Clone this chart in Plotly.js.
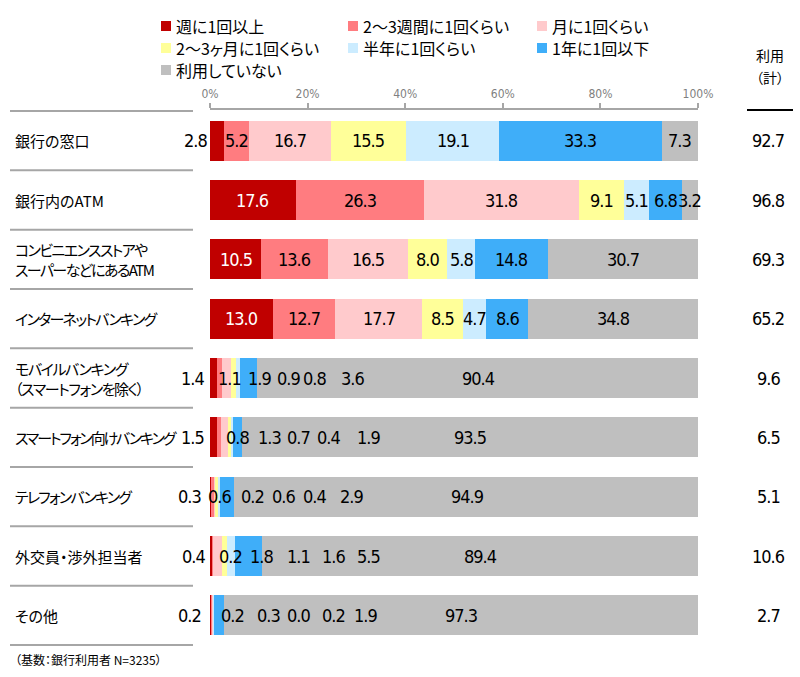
<!DOCTYPE html>
<html><head><meta charset="utf-8">
<script src="https://cdn.plot.ly/plotly-3.0.1.min.js"></script>
<style>
html,body{margin:0;padding:0;background:#fff;}
#chart{width:800px;height:677px;}
svg text{font-feature-settings:"palt" 1; font-stretch:condensed;}
</style>
</head><body><div id="chart"></div>
<script>
// ---------- data ----------
const categories = ["銀行の窓口","銀行内のATM","コンビニ・スーパーATM","インターネットバンキング","モバイルバンキング","スマートフォン向けバンキング","テレフォンバンキング","外交員・渉外担当者","その他"];
const categoryLabels = ["銀行の窓口","銀行内のATM","コンビニエンスストアや<br>スーパーなどにあるATM","インターネットバンキング","モバイルバンキング<br>（スマートフォンを除く）","スマートフォン向けバンキング","テレフォンバンキング","外交員・渉外担当者","その他"];
const seriesNames = ["週に1回以上","2～3週間に1回くらい","月に1回くらい","2～3ヶ月に1回くらい","半年に1回くらい","1年に1回以下","利用していない"];
const weekly    = [2.8, 17.6, 10.5, 13.0, 1.4, 1.5, 0.3, 0.4, 0.2];
const biweekly  = [5.2, 26.3, 13.6, 12.7, 1.1, 0.8, 0.6, 0.2, 0.2];
const monthly   = [16.7, 31.8, 16.5, 17.7, 1.9, 1.3, 0.2, 1.8, 0.3];
const bimonthly = [15.5, 9.1, 8.0, 8.5, 0.9, 0.7, 0.6, 1.1, 0.0];
const halfyear  = [19.1, 5.1, 5.8, 4.7, 0.8, 0.4, 0.4, 1.6, 0.2];
const yearly    = [33.3, 6.8, 14.8, 8.6, 3.6, 1.9, 2.9, 5.5, 1.9];
const notUsed   = [7.3, 3.2, 30.7, 34.8, 90.4, 93.5, 94.9, 89.4, 97.3];
const usageTotal = [92.7, 96.8, 69.3, 65.2, 9.6, 6.5, 5.1, 10.6, 2.7];
const axisTicks = [0, 20, 40, 60, 80, 100];
const axisTickLabels = ["0%", "20%", "40%", "60%", "80%", "100%"];
const footnote = "（基数：銀行利用者 N=3235）";
const usageHeader = ["利用", "（計）"];

// ---------- layout / style ----------
const L = 210, R = 698, T = 110, B = 646;
const colors = ["#C00000", "#FF7C80", "#FFCACC", "#FFFF99", "#CCECFF", "#3FAEF9", "#BFBFBF"];
const numFont = "'DejaVu Sans','Liberation Sans',sans-serif";
const jpFont = "'Noto Sans CJK JP',sans-serif";
// letter spacing (px) per category label, to mimic the narrow proportional kana of the original
const labelSpacing = [0, 0, -1.6, -1.7, -1.4, -2.1, -1.8, 0, 0];
// right edge (px) of first-segment labels drawn outside the bar
const outsideLabelRightPx = [209, 0, 0, 0, 206, 206, 203, 207, 203];
// manual label placement (pixel centres) for the thin rows, labels 2..7
const smallLabelPx = {
  4: [229, 259, 288, 314, 352, 478],
  5: [237, 269, 298, 328, 368, 470],
  6: [219, 252, 283, 314, 351, 467],
  7: [230, 261, 298, 333, 368, 480],
  8: [232, 268, 298, 333, 365, 461]
};
const legendCols = [161, 348, 537];
const legendRows = [26, 48, 70];

function pxToX(px) { return (px - L) / (R - L) * 100; }
function pxToPaperX(px) { return (px - L) / (R - L); }
function pxToPaperY(py) { return (B - py) / (B - T); }
function narrow(t, ls) { return '<span style="letter-spacing:' + ls + 'px">' + t + '</span>'; }

const series = [weekly, biweekly, monthly, bimonthly, halfyear, yearly, notUsed];

const traces = series.map((vals, k) => ({
  type: 'bar', orientation: 'h', name: seriesNames[k],
  y: categories, x: vals,
  marker: {color: colors[k], line: {width: 0}},
  hoverinfo: 'skip', showlegend: false, textposition: 'none'
}));

const annotations = [];
const shapes = [];

categories.forEach((cat, i) => {
  let cum = 0;
  series.forEach((vals, k) => {
    const v = vals[i];
    let xref = 'x', x, anchor = 'center', color = '#000';
    if (k === 0 && v < 3) { xref = 'paper'; x = pxToPaperX(outsideLabelRightPx[i]); anchor = 'right'; }
    else if (smallLabelPx[i]) { x = pxToX(smallLabelPx[i][k - 1]); }
    else { x = cum + v / 2; if (k === 0) color = '#fff'; }
    annotations.push({
      xref: xref, yref: 'y', x: x, y: cat, text: narrow(v.toFixed(1), -1),
      xanchor: anchor, yanchor: 'middle', showarrow: false,
      font: {family: numFont, size: 18, color: color}
    });
    cum += v;
  });
  // category label
  const lines = categoryLabels[i].split('<br>').map(s => labelSpacing[i] ? narrow(s, labelSpacing[i]) : s);
  annotations.push({
    xref: 'paper', yref: 'y', x: pxToPaperX(13), y: cat, text: lines.join('<br>'),
    xanchor: 'left', yanchor: 'middle', align: 'left', showarrow: false,
    font: {family: jpFont, size: 15, color: '#000'}
  });
  // usage total
  annotations.push({
    xref: 'paper', yref: 'y', x: pxToPaperX(768), y: cat, text: narrow(usageTotal[i].toFixed(1), -1),
    xanchor: 'center', yanchor: 'middle', showarrow: false,
    font: {family: numFont, size: 18, color: '#000'}
  });
});

// separators on the left
for (let j = 0; j <= categories.length; j++) {
  shapes.push({type: 'line', xref: 'paper', yref: 'y', x0: pxToPaperX(10), x1: pxToPaperX(193),
    y0: j - 0.5, y1: j - 0.5, line: {color: '#A6A6A6', width: 2}});
}
// black line under usage header
shapes.push({type: 'line', xref: 'paper', yref: 'paper', x0: pxToPaperX(747), x1: pxToPaperX(793),
  y0: 1, y1: 1, line: {color: '#000', width: 2}});

// usage header
usageHeader.forEach((t, n) => {
  annotations.push({xref: 'paper', yref: 'paper', x: pxToPaperX(770), y: pxToPaperY(n === 0 ? 55 : 77),
    text: t, xanchor: 'center', yanchor: 'middle', showarrow: false,
    font: {family: jpFont, size: 14, color: '#000'}});
});

// legend (manual 3-column layout)
seriesNames.forEach((nm, k) => {
  const sx = legendCols[k % 3], sy = legendRows[Math.floor(k / 3)];
  shapes.push({type: 'rect', xref: 'paper', yref: 'paper',
    x0: pxToPaperX(sx), x1: pxToPaperX(sx + 10), y0: pxToPaperY(sy + 5), y1: pxToPaperY(sy - 5),
    fillcolor: colors[k], line: {width: 0}});
  annotations.push({xref: 'paper', yref: 'paper', x: pxToPaperX(sx + 13), y: pxToPaperY(sy),
    text: nm, xanchor: 'left', yanchor: 'middle', showarrow: false,
    font: {family: jpFont, size: 16, color: '#000'}});
});

// footnote
annotations.push({xref: 'paper', yref: 'paper', x: pxToPaperX(13), y: pxToPaperY(659),
  text: footnote, xanchor: 'left', yanchor: 'middle', showarrow: false,
  font: {family: jpFont, size: 12, color: '#000'}});

const layout = {
  width: 800, height: 677, autosize: false,
  margin: {l: L, r: 800 - R, t: T, b: 677 - B, pad: 0},
  paper_bgcolor: '#fff', plot_bgcolor: '#fff',
  barmode: 'stack', bargap: 0.33,
  showlegend: false,
  font: {family: jpFont, color: '#000'},
  xaxis: {
    range: [0, 100], side: 'top', fixedrange: true,
    showgrid: false, zeroline: false,
    showline: true, linecolor: '#A6A6A6', linewidth: 2,
    ticks: 'outside', ticklen: 5, tickwidth: 2, tickcolor: '#A6A6A6',
    tickvals: axisTicks, ticktext: axisTickLabels,
    tickfont: {family: numFont, size: 12, color: '#7F7F7F'}
  },
  yaxis: {
    type: 'category', autorange: 'reversed', fixedrange: true,
    showgrid: false, zeroline: false, showline: false, showticklabels: false, ticks: ''
  },
  annotations: annotations,
  shapes: shapes
};

Plotly.newPlot('chart', traces, layout, {staticPlot: true, displayModeBar: false});
</script>
</body></html>
